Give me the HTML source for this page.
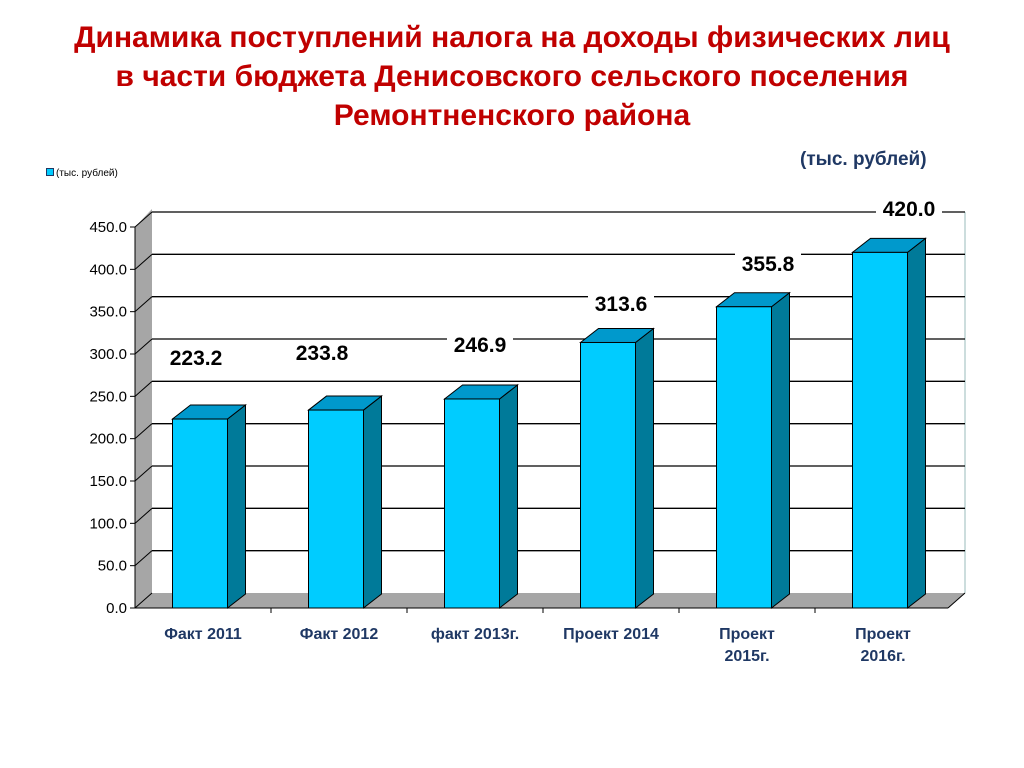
<!DOCTYPE html>
<html><head><meta charset="utf-8"><style>
body{margin:0;background:#fff;width:1024px;height:768px;overflow:hidden;font-family:"Liberation Sans",sans-serif}
.t{position:absolute;left:0;width:1024px;text-align:center;color:#c00000;font-weight:bold;font-size:30px}
</style></head><body>
<div class="t" style="top:18px;line-height:39px">Динамика поступлений налога на доходы физических лиц<br>в части бюджета Денисовского сельского поселения<br>Ремонтненского района</div>
<div style="position:absolute;left:800px;top:149px;color:#1f3864;font-weight:bold;font-size:19px">(тыс. рублей)</div>
<div style="position:absolute;left:46px;top:168px;font-size:10px;color:#000"><span style="display:inline-block;width:6px;height:6px;background:#00ccff;border:1px solid #1f3864;margin-right:2px"></span>(тыс. рублей)</div>
<svg id="c" width="1024" height="768" style="position:absolute;left:0;top:0"></svg>
<script>
const categories=["Факт 2011","Факт 2012","факт 2013г.","Проект 2014","Проект|2015г.","Проект|2016г."];
const values=[223.2,233.8,246.9,313.6,355.8,420.0];
const ticks=[0,50,100,150,200,250,300,350,400,450];
const x0=135,xr=948,y0=608,sc=381/450,dx=17,dy=-15;
const Y=v=>y0-v*sc;
const s=document.getElementById('c');
function el(t,a,txt){const e=document.createElementNS('http://www.w3.org/2000/svg',t);for(const k in a)e.setAttribute(k,a[k]);if(txt!=null)e.textContent=txt;s.appendChild(e);return e;}
let e;
e=el('polygon',{points:`${x0},${y0} ${x0+dx},${y0+dy} ${x0+dx},${Y(450)+dy-3} ${x0},${Y(450)}`,fill:'#a6a6a6'});

e=el('polygon',{points:`${x0},${y0} ${xr},${y0} ${xr+dx},${y0+dy} ${x0+dx},${y0+dy}`,fill:'#a6a6a6'});

el('line',{x1:xr+dx,y1:y0+dy,x2:xr+dx,y2:Y(450)+dy,stroke:'#9bb',"stroke-width":1});
ticks.forEach(t=>{
 if(t>0){e=el('line',{x1:x0+dx,y1:Y(t)+dy,x2:xr+dx,y2:Y(t)+dy,stroke:'#000',"stroke-width":1.3});
 }
 el('line',{x1:x0,y1:Y(t),x2:x0+dx,y2:Y(t)+dy,stroke:'#000',"stroke-width":1});
 el('line',{x1:x0-5,y1:Y(t),x2:x0,y2:Y(t),stroke:'#000'});
 e=el('text',{x:x0-8,y:Y(t)+5,"text-anchor":'end',"font-size":15,fill:'#000'},t.toFixed(1));
 
});
el('line',{x1:x0,y1:y0,x2:x0,y2:Y(450),stroke:'#000'});
el('line',{x1:x0,y1:y0,x2:xr,y2:y0,stroke:'#000'});
el('line',{x1:xr,y1:y0,x2:xr+dx,y2:y0+dy,stroke:'#000'});
const bw=136,w=55;
const lab=[[196,362],[322,357],[480,349],[621,308],[768,268],[909,213]];
values.forEach((v,i)=>{
 const cx=x0+bw*(i+0.5)-3,l=cx-w/2,r=cx+w/2,top=Y(v),bd=18,bdy=-14;
 e=el('polygon',{points:`${r},${y0} ${r+bd},${y0+bdy} ${r+bd},${top+bdy} ${r},${top}`,fill:'#007a99',stroke:'#000',"stroke-width":1});
 
 e=el('polygon',{points:`${l},${top} ${r},${top} ${r+bd},${top+bdy} ${l+bd},${top+bdy}`,fill:'#0099cc',stroke:'#000',"stroke-width":1});
 
 e=el('rect',{x:l,y:top,width:w,height:y0-top,fill:'#00ccff',stroke:'#000',"stroke-width":1});
 
 const tw=66;
 el('rect',{x:lab[i][0]-tw/2,y:lab[i][1]-17,width:tw,height:24,fill:'#fff'});
 e=el('text',{x:lab[i][0],y:lab[i][1]+3,"text-anchor":'middle',"font-size":21,"font-weight":'bold',fill:'#000'},v.toFixed(1));
 
 const parts=categories[i].split('|');
 parts.forEach((p,j)=>{
  e=el('text',{x:x0+bw*(i+0.5),y:639+j*22,"text-anchor":'middle',"font-size":16,"font-weight":'bold',fill:'#1f3864'},p);
  
 });
 if(i>0){el('line',{x1:x0+bw*i,y1:y0,x2:x0+bw*i,y2:y0+5,stroke:'#000'});}
});
</script>
</body></html>
